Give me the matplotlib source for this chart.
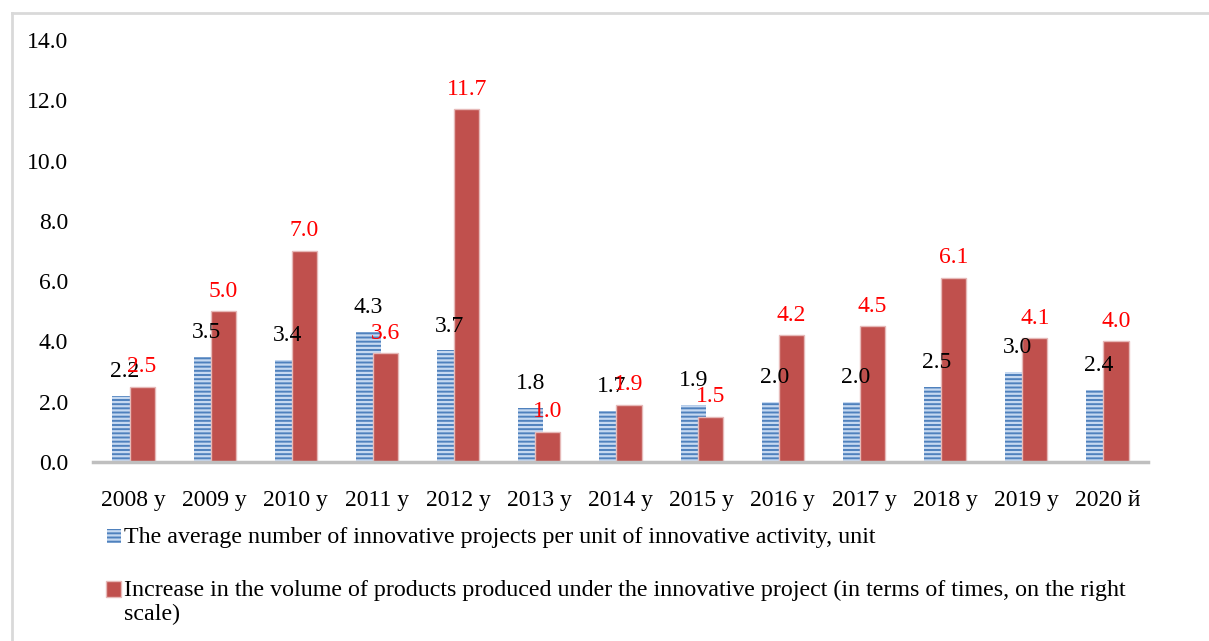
import numpy as np
import matplotlib
matplotlib.use('Agg')
import matplotlib.pyplot as plt
from matplotlib.lines import Line2D
from matplotlib.patches import Rectangle

plt.rcParams['font.family'] = ['Liberation Serif', 'DejaVu Serif']
plt.rcParams['hatch.linewidth'] = 1.6

years = ['2008 y', '2009 y', '2010 y', '2011 y', '2012 y', '2013 y', '2014 y',
         '2015 y', '2016 y', '2017 y', '2018 y', '2019 y', '2020 й']
avg_projects = [2.2, 3.5, 3.4, 4.3, 3.7, 1.8, 1.7, 1.9, 2.0, 2.0, 2.5, 3.0, 2.4]
volume_increase = [2.5, 5.0, 7.0, 3.6, 11.7, 1.0, 1.9, 1.5, 4.2, 4.5, 6.1, 4.1, 4.0]

label1 = 'The average number of innovative projects per unit of innovative activity, unit'
label2a = ('Increase in the volume of products produced under the innovative project '
           '(in terms of times, on the right')
label2b = 'scale)'

blue = '#4F81BD'
red = '#C0504D'
W, H = 1209, 641

fig = plt.figure(figsize=(W/100, H/100), dpi=100)
ax = fig.add_axes([93/W, 1-462/H, 1055/W, 422/H])

x = np.arange(len(years))
w = 0.31
off = 0.105
ax.bar(x - off, avg_projects, w, color=blue, edgecolor='#C6D9F1',
       hatch='----', linewidth=0, zorder=2)
ax.bar(x + off, volume_increase, w, color=red, edgecolor='#E6B9B8',
       linewidth=1, zorder=3)

for xi, v in zip(x, avg_projects):
    ax.annotate('%.1f' % v, (xi - off, v), xytext=(0, 10), textcoords='offset points',
                ha='center', va='bottom', fontsize=17, color='black', zorder=5)
for xi, v in zip(x, volume_increase):
    ax.annotate('%.1f' % v, (xi + off, v), xytext=(0, 7), textcoords='offset points',
                ha='center', va='bottom', fontsize=17, color='#FF0000', zorder=5)

ax.set_xlim(-0.5, len(years) - 0.5)
ax.set_ylim(0, 14)
ticks = np.arange(0, 14.1, 2)
ax.set_yticks(ticks)
ax.set_yticklabels(['%.1f' % t for t in ticks])
ax.set_xticks(x)
ax.set_xticklabels(years)
ax.tick_params(axis='both', length=0, labelsize=17)
ax.tick_params(axis='y', pad=18)
ax.tick_params(axis='x', pad=20)
for s in ['top', 'right', 'left']:
    ax.spines[s].set_visible(False)
ax.spines['bottom'].set_color('#BFBFBF')
ax.spines['bottom'].set_linewidth(2.5)
ax.spines['bottom'].set_zorder(4)

# legend drawn by hand so the red key sits on the first line
fig.add_artist(Rectangle((107/W, 1-543/H), 14/W, 14/H, transform=fig.transFigure,
                         facecolor=blue, edgecolor='#C6D9F1', hatch='----', linewidth=0))
fig.add_artist(Rectangle((106/W, 1-597/H), 15/W, 16/H, transform=fig.transFigure,
                         facecolor=red, edgecolor='#E6B9B8', linewidth=1))
fig.text(124/W, 1-543/H, label1, fontsize=17.3, va='baseline', ha='left')
fig.text(124/W, 1-596/H, label2a, fontsize=17.3, va='baseline', ha='left')
fig.text(124/W, 1-620/H, label2b, fontsize=17.3, va='baseline', ha='left')

# outer frame
fig.add_artist(Line2D([12/W, 12/W], [0, 1-13/H], transform=fig.transFigure,
                      color='#D9D9D9', linewidth=2))
fig.add_artist(Line2D([12/W, 1], [1-13/H, 1-13/H], transform=fig.transFigure,
                      color='#D9D9D9', linewidth=2))

fig.savefig('out.png', dpi=100)
